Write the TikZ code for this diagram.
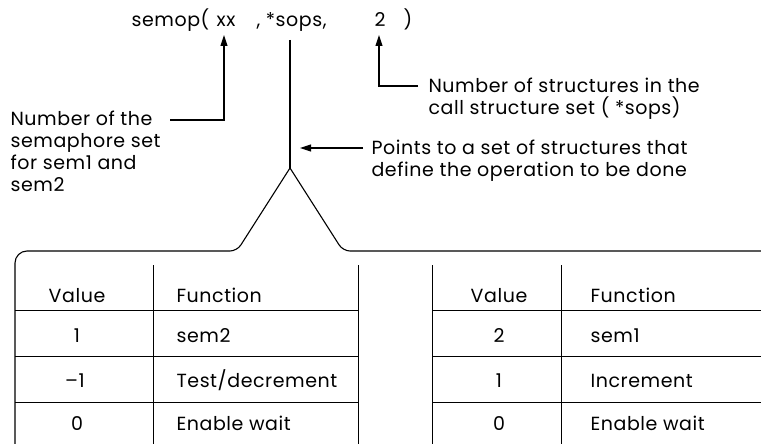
\documentclass[tikz,border=0pt]{standalone}
\usepackage{fontspec}
\setmainfont[LetterSpace=3.0]{Poppins}
\usetikzlibrary{arrows.meta}
\begin{document}
\begin{tikzpicture}[x=1pt,y=-1pt,line width=1.1pt,
  txt/.style={inner sep=0pt,font=\fontsize{19}{22}\selectfont},
  lbl/.style={txt,align=left,anchor=base west},
  arr/.style={-{Triangle[length=11pt,width=7pt]}},
  rule/.style={line width=1pt}]
\useasboundingbox (0,0) rectangle (761,444);

% the call
\node[txt,anchor=base west] (call) at (131,27) {semop(};
\node[txt,anchor=base] (xx) at (226,27) {xx};
\node[txt,anchor=base west] (sops) at (256,27) {, *sops,};
\node[txt,anchor=base] (nsops) at (380,27) {2};
\node[txt,anchor=base west] (close) at (403,27) {)};

% explanations (a multi-line node sits on the baseline of its last line)
\node[lbl] (semset) at (10,191) {Number of the\\semaphore set\\for sem1 and\\sem2};
\node[lbl] (count) at (428,114) {Number of structures in the\\call structure set ( *sops)};
\node[lbl] (points) at (371,176) {Points to a set of structures that\\define the operation to be done};

\coordinate (xxtip) at (224,35);
\coordinate (twotip) at (379,35);
\coordinate (apex) at (290,168);

\draw[arr] (170,120) -| (xxtip);
\draw[arr] (418,86) -| (twotip);
\draw (290,40) -- (apex);
\draw[arr] (363,148) -- (300,148);

% brace opening onto the two tables
\draw (15,444) [rounded corners=12pt]-- (15,251) [rounded corners=7pt]-- (237,251)
  -- (263.5,209.5) [sharp corners]-- (apex) -- (316.5,209.5)
  [rounded corners=7pt]-- (343,251) -- (761,251);

% left table
\draw[rule] (153,265) -- (153,444);
\draw[rule] (358,265) -- (358,444);
\foreach \y in {310,356,402} \draw[rule] (15,\y) -- (358,\y);
\node[txt,anchor=base] (lv0) at (77,302) {Value};
\node[txt,anchor=base west] (lf0) at (176,302) {Function};
\node[txt,anchor=base] (lv1) at (77,342) {1};
\node[txt,anchor=base west] (lf1) at (176,342) {sem2};
\node[txt,anchor=base] (lv2) at (75,387) {–1};
\node[txt,anchor=base west] (lf2) at (176,387) {Test/decrement};
\node[txt,anchor=base] (lv3) at (77,430) {0};
\node[txt,anchor=base west] (lf3) at (176,430) {Enable wait};

% right table
\draw[rule] (432,265) -- (432,444);
\draw[rule] (561,265) -- (561,444);
\foreach \y in {310,356,402} \draw[rule] (432,\y) -- (761,\y);
\node[txt,anchor=base] (rv0) at (499,302) {Value};
\node[txt,anchor=base west] (rf0) at (590,302) {Function};
\node[txt,anchor=base] (rv1) at (499,342) {2};
\node[txt,anchor=base west] (rf1) at (590,342) {sem1};
\node[txt,anchor=base] (rv2) at (499,387) {1};
\node[txt,anchor=base west] (rf2) at (590,387) {Increment};
\node[txt,anchor=base] (rv3) at (499,430) {0};
\node[txt,anchor=base west] (rf3) at (590,430) {Enable wait};
\end{tikzpicture}
\end{document}
